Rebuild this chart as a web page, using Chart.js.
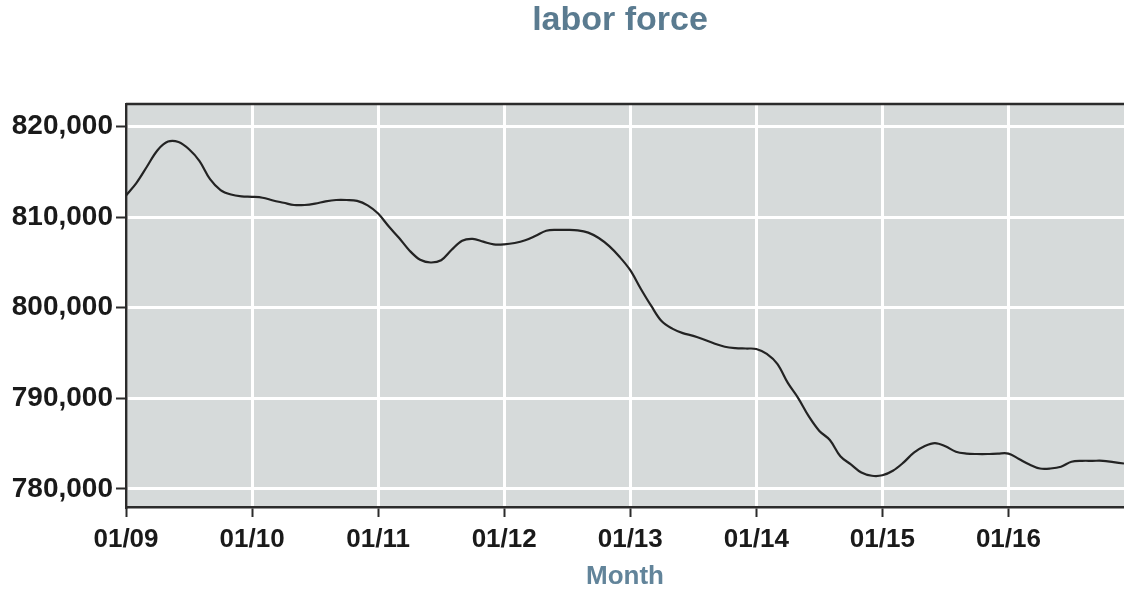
<!DOCTYPE html>
<html>
<head>
<meta charset="utf-8">
<script src="https://cdn.jsdelivr.net/npm/chart.js@4/dist/chart.umd.min.js"></script>
<style>
  html, body { margin: 0; padding: 0; background: #fff; }
  #wrap { width: 1124px; height: 592px; }
</style>
</head>
<body>
<div id="wrap"><canvas id="laborChart"></canvas></div>
<script>
// monthly values, one array per year (Jan..Dec)
let lf2009 = [812400, 813800, 815600, 817400, 818350, 818300, 817500, 816200, 814200, 813000, 812500, 812300];
let lf2010 = [812250, 812150, 811850, 811600, 811350, 811350, 811500, 811750, 811900, 811900, 811800, 811300];
let lf2011 = [810400, 809000, 807700, 806300, 805300, 805000, 805250, 806400, 807400, 807600, 807300, 807000];
let lf2012 = [807000, 807150, 807450, 807950, 808500, 808600, 808600, 808550, 808300, 807700, 806800, 805600];
let lf2013 = [804150, 802100, 800200, 798500, 797700, 797200, 796900, 796500, 796050, 795700, 795550, 795500];
let lf2014 = [795450, 794900, 793800, 791700, 790000, 788000, 786400, 785400, 783600, 782700, 781800, 781450];
let lf2015 = [781500, 782000, 782900, 784000, 784700, 785050, 784700, 784100, 783900, 783850, 783850, 783900];
let lf2016 = [783900, 783300, 782700, 782250, 782250, 782450, 783000, 783100, 783100, 783100, 782950, 782800];

let laborForce = [].concat(lf2009, lf2010, lf2011, lf2012, lf2013, lf2014, lf2015, lf2016);

let yearTicks = ['01/09', '01/10', '01/11', '01/12', '01/13', '01/14', '01/15', '01/16'];
let yearTickPos = [0, 12, 24, 36, 48, 60, 72, 84];
let yTicks = [780000, 790000, 800000, 810000, 820000];

let titleText = 'labor force';

// gray plot background + dark frame, and the title centred over the plot
const plotFrame = {
    id: 'plotFrame',
    beforeDraw(chart) {
        const {ctx, chartArea: a} = chart;
        ctx.save();
        ctx.fillStyle = '#d6dada';
        ctx.fillRect(a.left, a.top, a.right - a.left, a.bottom - a.top);
        ctx.restore();
    },
    afterDraw(chart) {
        const {ctx, chartArea: a} = chart;
        ctx.save();
        ctx.strokeStyle = '#2b2b2b';
        ctx.lineWidth = 2.5;
        ctx.beginPath();
        ctx.moveTo(a.right, a.top);
        ctx.lineTo(a.left, a.top);
        ctx.stroke();
        ctx.fillStyle = '#5a7b90';
        ctx.font = 'bold 34px "Liberation Sans", Arial, sans-serif';
        ctx.textAlign = 'center';
        ctx.textBaseline = 'middle';
        ctx.fillText(titleText, (a.left + a.right) / 2 - 5, 21);
        ctx.restore();
    }
};

let ctx = document.getElementById('laborChart').getContext('2d');

let chart = new Chart(ctx, {
    type: 'line',
    data: {
        datasets: [{
            label: 'labor force',
            data: laborForce.map((v, i) => ({x: i, y: v})),
            borderColor: '#232323',
            borderWidth: 2.2,
            pointRadius: 0,
            tension: 0.35,
            fill: false
        }]
    },
    options: {
        responsive: true,
        maintainAspectRatio: false,
        animation: false,
        layout: { padding: { top: 104, right: 0, left: 0, bottom: 0 } },
        plugins: {
            legend: { display: false },
            tooltip: { enabled: false }
        },
        scales: {
            x: {
                type: 'linear',
                min: 0,
                max: 95,
                afterBuildTicks: (scale) => { scale.ticks = yearTickPos.map(v => ({value: v})); },
                afterFit: (scale) => { scale.height = 85; },
                ticks: {
                    autoSkip: false,
                    maxRotation: 0,
                    padding: 7,
                    color: '#1a1a1a',
                    font: { family: '"Liberation Sans", Arial, sans-serif', size: 26, weight: 'bold' },
                    callback: (value) => yearTicks[yearTickPos.indexOf(value)]
                },
                grid: { color: '#ffffff', lineWidth: 3, tickColor: '#2b2b2b', tickLength: 10, tickWidth: 2 },
                border: { color: '#2b2b2b', width: 2.5 },
                title: {
                    display: true,
                    text: 'Month',
                    color: '#62849a',
                    font: { family: '"Liberation Sans", Arial, sans-serif', size: 26, weight: 'bold' },
                    padding: { top: 2, bottom: 0 }
                }
            },
            y: {
                min: 778000,
                max: 822500,
                afterBuildTicks: (scale) => { scale.ticks = yTicks.map(v => ({value: v})); },
                afterFit: (scale) => { scale.width = 126; },
                ticks: {
                    padding: 3,
                    color: '#1a1a1a',
                    font: { family: '"Liberation Sans", Arial, sans-serif', size: 28, weight: 'bold' },
                    callback: (value) => value.toLocaleString('en-US')
                },
                grid: { color: '#ffffff', lineWidth: 3, tickColor: '#2b2b2b', tickLength: 10, tickWidth: 2 },
                border: { color: '#2b2b2b', width: 2.5 }
            }
        }
    },
    plugins: [plotFrame]
});
</script>
</body>
</html>
